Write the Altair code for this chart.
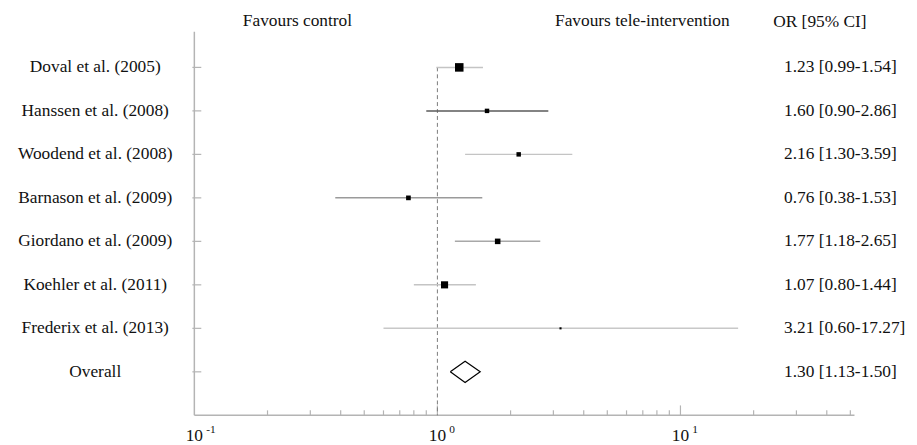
import altair as alt
import pandas as pd

# ---------------- data ----------------
studies = [
    "Doval et al. (2005)",
    "Hanssen et al. (2008)",
    "Woodend et al. (2008)",
    "Barnason et al. (2009)",
    "Giordano et al. (2009)",
    "Koehler et al. (2011)",
    "Frederix et al. (2013)",
]
odds = [1.23, 1.60, 2.16, 0.76, 1.77, 1.07, 3.21]
lower = [0.99, 0.90, 1.30, 0.38, 1.18, 0.80, 0.60]
upper = [1.54, 2.86, 3.59, 1.53, 2.65, 1.44, 17.27]
weights = [33, 9, 9, 10, 14, 23, 2]

overall_label = "Overall"
overall_or = 1.30
overall_lo = 1.13
overall_hi = 1.50

headers = ["Favours control", "Favours tele-intervention", "OR [95% CI]"]
major_ticks = [1, 10]
minor_ticks = [0.2, 0.3, 0.4, 0.5, 0.6, 0.7, 0.8, 0.9,
               2, 3, 4, 5, 6, 7, 8, 9, 20, 30, 40, 50]
label_ticks = [0.1, 1, 10]
label_exps = ["-1", "0", "1"]

# ---------------- styles ----------------
line_colors = ["#c4c4c4", "#5a5a5a", "#c4c4c4", "#9a9a9a", "#a8a8a8", "#c4c4c4", "#c8c8c8"]
FONT = "Liberation Serif, 'Times New Roman', Times, serif"
FS = 17.5
W, H = 666, 387
AXIS_GRAY = "#b4b4b4"

# ---------------- tables ----------------
rows = list(range(len(studies)))
df = pd.DataFrame({
    "study": studies, "or": odds, "lo": lower, "hi": upper, "w": weights, "row": rows,
})
df["txt"] = [f"{o:.2f} [{l:.2f}-{u:.2f}]" for o, l, u in zip(odds, lower, upper)]

ov_row = len(studies)
lab_df = pd.DataFrame({
    "label": studies + [overall_label],
    "row": rows + [ov_row],
    "txt": list(df["txt"]) + [f"{overall_or:.2f} [{overall_lo:.2f}-{overall_hi:.2f}]"],
})

half = 0.245
dia_df = pd.DataFrame({
    "x": [overall_lo, overall_or, overall_hi, overall_or, overall_lo],
    "y": [ov_row, ov_row - half, ov_row, ov_row + half, ov_row],
    "o": [0, 1, 2, 3, 4],
})

xs = alt.Scale(type="log", domain=[0.1, 52], nice=False, clamp=False)
ys = alt.Scale(domain=[-0.82, 8.0], reverse=True, nice=False, zero=False)


def X(f):
    return alt.X(f, type="quantitative", scale=xs, axis=None)


def Y(f):
    return alt.Y(f, type="quantitative", scale=ys, axis=None)


base = alt.Chart(df)

ci = base.mark_rule(strokeWidth=1.5).encode(
    x=X("lo"), x2="hi", y=Y("row"),
    color=alt.Color("study:N", scale=alt.Scale(domain=studies, range=line_colors), legend=None),
)

sq = base.mark_square(filled=True, color="black", opacity=1, strokeWidth=0).encode(
    x=X("or"), y=Y("row"),
    size=alt.Size("w:Q", scale=alt.Scale(domain=[0, 33], range=[0, 74]), legend=None),
)

diamond = alt.Chart(dia_df).mark_line(color="black", strokeWidth=1.2).encode(
    x=X("x"), y=Y("y"), order="o:Q"
)

ref = alt.Chart(pd.DataFrame({"x": [1], "row": [0]})).mark_rule(
    color="#7a7a7a", strokeDash=[4, 3], strokeWidth=1
).encode(x=X("x"), y=Y("row"), y2=alt.value(H))

vaxis = alt.Chart(pd.DataFrame({"a": [0]})).mark_rule(color=AXIS_GRAY, strokeWidth=1.5).encode(
    x=alt.value(0), y=alt.value(0), y2=alt.value(H)
)
haxis = alt.Chart(pd.DataFrame({"a": [0]})).mark_rule(color=AXIS_GRAY, strokeWidth=1.5).encode(
    x=alt.value(0), x2=alt.value(W), y=alt.value(H)
)

maj = alt.Chart(pd.DataFrame({"v": major_ticks})).mark_rule(color=AXIS_GRAY, strokeWidth=1.2).encode(
    x=X("v"), y=alt.value(H - 10), y2=alt.value(H)
)
mino = alt.Chart(pd.DataFrame({"v": minor_ticks})).mark_rule(color=AXIS_GRAY, strokeWidth=1.2).encode(
    x=X("v"), y=alt.value(H - 5), y2=alt.value(H)
)

yt = alt.Chart(lab_df).mark_rule(color=AXIS_GRAY, strokeWidth=1.2).encode(
    x=alt.value(-2), x2=alt.value(7), y=Y("row")
)

left_txt = alt.Chart(lab_df).mark_text(
    font=FONT, fontSize=FS, align="center", baseline="middle", color="#111"
).encode(x=alt.value(-100), y=Y("row"), text="label:N")

right_txt = alt.Chart(lab_df).mark_text(
    font=FONT, fontSize=FS, align="left", baseline="middle", color="#111"
).encode(x=alt.value(595), y=Y("row"), text="txt:N")

hdr1 = alt.Chart(pd.DataFrame({"t": headers[:2], "px": [104, 452]})).mark_text(
    font=FONT, fontSize=FS, baseline="middle", align="center", color="#111"
).encode(x=alt.X("px:Q", scale=None, axis=None), y=alt.value(-11), text="t:N")
hdr2 = alt.Chart(pd.DataFrame({"t": headers[2:], "px": [584]})).mark_text(
    font=FONT, fontSize=FS, baseline="middle", align="left", color="#111"
).encode(x=alt.X("px:Q", scale=None, axis=None), y=alt.value(-10), text="t:N")

xl_df = pd.DataFrame({"v": label_ticks, "e": label_exps, "b": ["10"] * len(label_ticks)})
xl_base = alt.Chart(xl_df).mark_text(
    font=FONT, fontSize=FS, align="center", baseline="middle", color="#111"
).encode(x=X("v"), y=alt.value(H + 21), text="b:N")
xl_exp = alt.Chart(xl_df).mark_text(
    font=FONT, fontSize=11.5, align="left", baseline="middle", dx=12, color="#111"
).encode(x=X("v"), y=alt.value(H + 15), text="e:N")

chart = alt.layer(
    vaxis, haxis, maj, mino, yt, ref, ci, sq, diamond,
    left_txt, right_txt, hdr1, hdr2, xl_base, xl_exp,
).properties(
    width=W, height=H,
    autosize=alt.AutoSizeParams(type="none"),
    padding={"left": 188, "top": 22, "right": 55, "bottom": 28},
).configure_view(stroke=None)

chart.save("out.html", embed_options={"renderer": "svg", "actions": False})
